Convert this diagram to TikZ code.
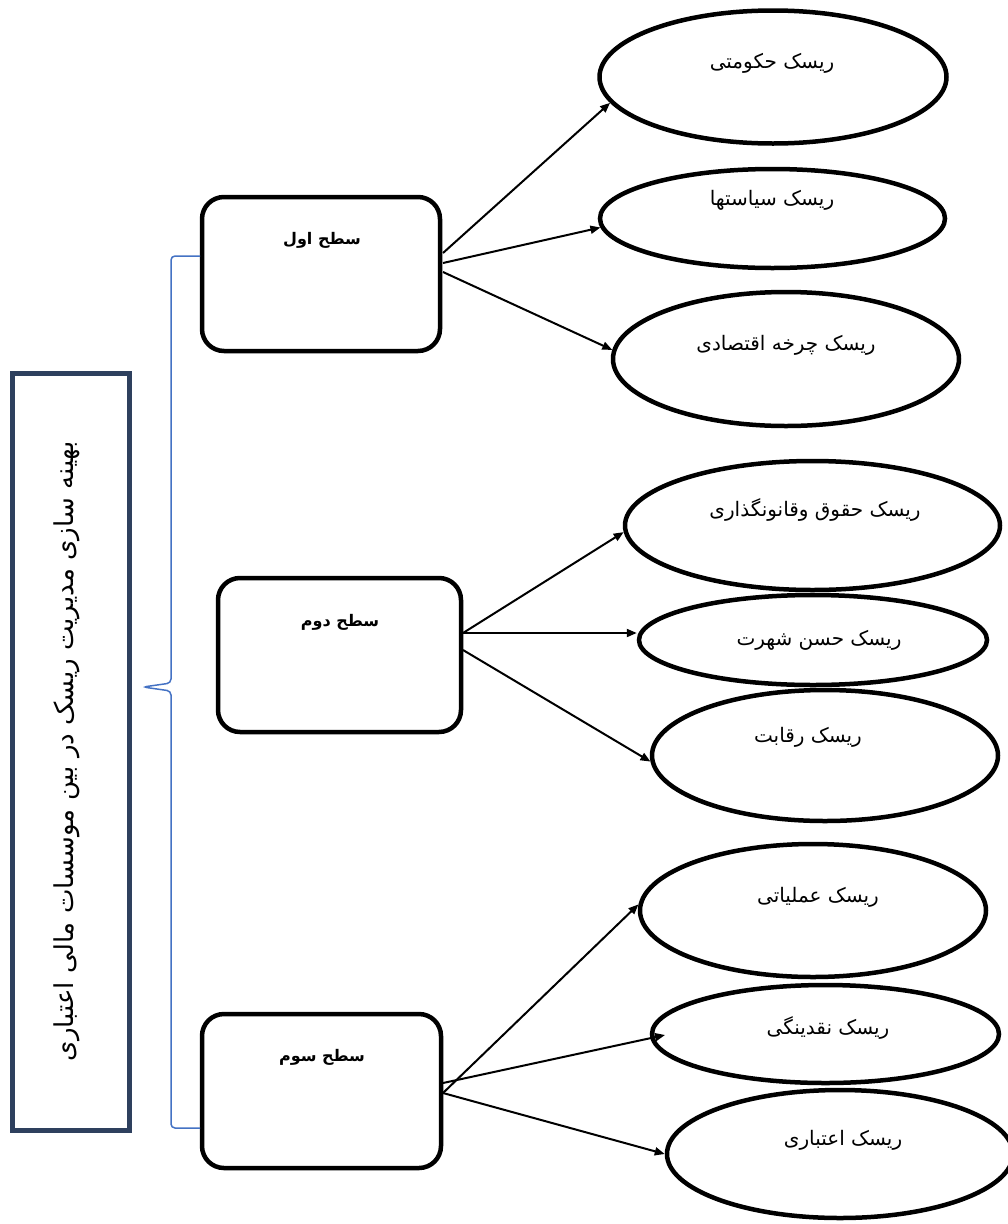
\documentclass[tikz,border=0pt]{standalone}
\usepackage{fontspec}
\usetikzlibrary{shapes.geometric,arrows.meta}
\newfontfamily\arabicfont[Script=Arabic]{DejaVu Sans}
\TeXXeTstate=1
\definecolor{navy}{HTML}{2E405E}
\definecolor{braceblue}{HTML}{4472C4}
\tikzset{
  riskell/.style={ellipse, draw=black, line width=4.5pt, inner sep=0pt},
  levelbox/.style={rectangle, rounded corners=22pt, draw=black, line width=4.5pt, inner sep=0pt, minimum width=238pt, minimum height=154pt},
  etext/.style={font=\arabicfont\fontsize{20}{23}\selectfont, inner sep=0pt},
  btext/.style={font=\arabicfont\bfseries\fontsize{16}{19}\selectfont, inner sep=0pt},
  conn/.style={line width=2pt, -{Triangle[length=10pt,width=8pt]}},
  bracepath/.style={draw=braceblue, line width=1.5pt, rounded corners=4pt}
}
\begin{document}
\begin{tikzpicture}[x=1pt,y=-1pt]
\useasboundingbox[fill=white] (0,0) rectangle (1008,1224);
% main box
\node[draw=navy, line width=5pt, inner sep=0pt, minimum width=117pt, minimum height=757pt] (main) at (71,752) {};
\node[rotate=90, font=\arabicfont\fontsize{26}{29}\selectfont, inner sep=0pt] (maintext) at (67,751) {\beginR بهینه سازی مدیریت ریسک در بین موسسات مالی اعتباری\endR};
% level boxes
\node[levelbox] (b1) at (321,274) {};
\node[levelbox, minimum width=243pt] (b2) at (339.5,655) {};
\node[levelbox, minimum width=239pt] (b3) at (321.5,1091) {};
\node[btext] (t1) at (322,240) {\beginR سطح اول\endR};
\node[btext] (t2) at (340,622) {\beginR سطح دوم\endR};
\node[btext] (t3) at (322,1057) {\beginR سطح سوم\endR};
% ellipses
\node[riskell, minimum width=347pt, minimum height=133pt] (e1) at (773,77) {};
\node[riskell, minimum width=345pt, minimum height=99pt] (e2) at (772.5,218.5) {};
\node[riskell, minimum width=346pt, minimum height=134pt] (e3) at (786,359) {};
\node[riskell, minimum width=375pt, minimum height=129pt] (e4) at (812.5,525.5) {};
\node[riskell, minimum width=348pt, minimum height=90pt] (e5) at (813,640) {};
\node[riskell, minimum width=346pt, minimum height=131pt] (e6) at (825,755.5) {};
\node[riskell, minimum width=346pt, minimum height=133pt] (e7) at (813,910.5) {};
\node[riskell, minimum width=347pt, minimum height=98pt] (e8) at (825.5,1034) {};
\node[riskell, minimum width=346pt, minimum height=128pt] (e9) at (840,1154) {};
% ellipse texts
\node[etext] (l1) at (772,63) {\beginR ریسک حکومتی\endR};
\node[etext] (l2) at (772,200) {\beginR ریسک سیاستها\endR};
\node[etext] (l3) at (786,345) {\beginR ریسک چرخه اقتصادی\endR};
\node[etext] (l4) at (815,510) {\beginR ریسک حقوق وقانونگذاری\endR};
\node[etext] (l5) at (819,640) {\beginR ریسک حسن شهرت\endR};
\node[etext] (l6) at (808,737) {\beginR ریسک رقابت\endR};
\node[etext] (l7) at (818,897) {\beginR ریسک عملیاتی\endR};
\node[etext] (l8) at (828,1028) {\beginR ریسک نقدینگی\endR};
\node[etext] (l9) at (843,1140) {\beginR ریسک اعتباری\endR};
% connector start points
\coordinate (s11) at (443,253);
\coordinate (s12) at (443,263);
\coordinate (s13) at (443,272);
\coordinate (s21) at (463,633);
\coordinate (s23) at (463,650);
\coordinate (s31) at (443,1093);
\coordinate (s32) at (443,1083);
\coordinate (t32) at (665,1035);
% connectors
\draw[conn] (s11) -- (e1.189);
\draw[conn] (s12) -- (e2.183);
\draw[conn] (s13) -- (e3.177);
\draw[conn] (s21) -- (e4.182);
\draw[conn] (s21) -- (e5.west |- s21);
\draw[conn] (s23) -- (e6.182);
\draw[conn] (s31) -- (e7.178);
\draw[conn] (s32) -- (t32);
\draw[conn] (s31) -- (e9.west);
% brace
\coordinate (bt) at (200,256);
\coordinate (bm) at (143,687);
\coordinate (bb) at (200,1128);
\draw[bracepath] (bt) -- (171,256) -- (171,683) -- (bm) -- (171,691) -- (171,1128) -- (bb);
\end{tikzpicture}
\end{document}
